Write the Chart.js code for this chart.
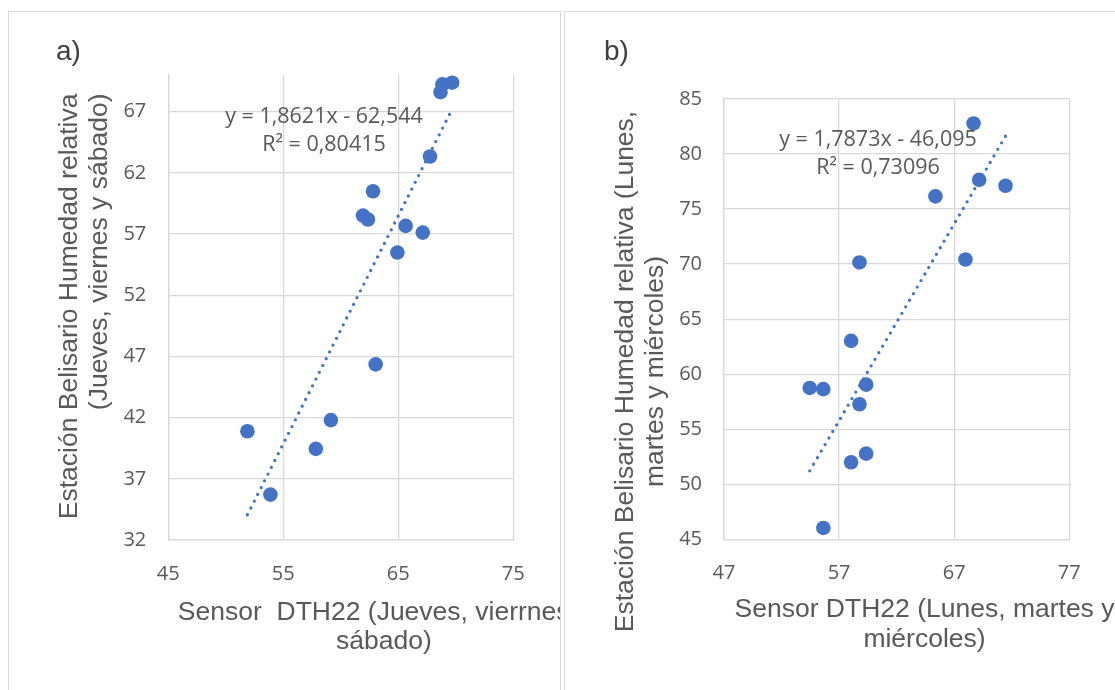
<!DOCTYPE html>
<html>
<head>
<meta charset="utf-8">
<script src="https://cdn.jsdelivr.net/npm/chart.js@4.4.1/dist/chart.umd.min.js"></script>
<style>
  body { margin: 0; width: 1115px; height: 690px; overflow: hidden; background: #fff; position: relative; }
  .panel { position: absolute; top: 11px; height: 700px; border: 1px solid #D9D9D9; overflow: hidden; box-sizing: border-box; }
  #panelA { left: 8px; width: 553px; }
  #panelB { left: 564px; width: 560px; }
  .panel canvas { position: absolute; left: 0; top: 0; }
  .lbl { position: absolute; font-family: "Liberation Sans", Arial, sans-serif; font-size: 28px; line-height: 28px; color: #404040; }
  .title { position: absolute; font-family: "Liberation Sans", Arial, sans-serif; font-size: 26.5px; line-height: 29.5px; color: #595959; white-space: nowrap; }
  .ytitle { transform: rotate(-90deg); height: 59px; }
  .xtitle { width: 500px; text-align: center; }
  .eq { position: absolute; width: 300px; font-family: "Open Sans", sans-serif; font-size: 21.5px; line-height: 28px; color: #595959; text-align: center; white-space: nowrap; }
</style>
</head>
<body>
<div class="panel" id="panelA">
  <canvas id="chartA" width="551" height="678"></canvas>
  <div class="lbl" style="left:47px; top:25px;">a)</div>
  <div class="title ytitle" style="left:-146.5px; top:271.5px; width:440px; text-align:right;">Estación Belisario Humedad relativa<br>(Jueves, viernes y sábado)</div>
  <div class="title xtitle" style="left:125px; top:584.7px;">Sensor&nbsp; DTH22 (Jueves, vierrnes y<br>sábado)</div>
  <div class="eq" style="left:165px; top:89px;">y = 1,8621x - 62,544<br>R² = 0,80415</div>
</div>
<div class="panel" id="panelB">
  <canvas id="chartB" width="548" height="678"></canvas>
  <div class="lbl" style="left:39px; top:25px;">b)</div>
  <div class="title ytitle" style="left:-206.5px; top:329.5px; width:560px; text-align:center;">Estación Belisario Humedad relativa (Lunes,<br>martes y miércoles)</div>
  <div class="title xtitle" style="left:109.5px; top:582px;">Sensor DTH22 (Lunes, martes y<br>miércoles)</div>
  <div class="eq" style="left:163px; top:112.3px;">y = 1,7873x - 46,095<br>R² = 0,73096</div>
</div>
<script>
// a) Jueves, viernes y sábado
const sensorA = [69.68, 68.84, 68.67, 67.76, 62.80, 61.93, 62.36, 65.64, 67.13, 64.92, 63.03, 59.14, 51.88, 57.83, 53.88];
const estacionA = [69.37, 69.23, 68.60, 63.34, 60.50, 58.51, 58.19, 57.67, 57.12, 55.49, 46.35, 41.80, 40.89, 39.45, 35.71];
const slopeA = 1.8621;
const interceptA = -62.544;
const xTicksA = [45, 55, 65, 75];
const yTicksA = [32, 37, 42, 47, 52, 57, 62, 67];

// b) Lunes, martes y miércoles
const sensorB = [68.68, 69.17, 71.46, 65.37, 58.77, 67.98, 58.04, 54.45, 55.63, 59.35, 58.77, 59.35, 58.04, 55.63];
const estacionB = [82.78, 77.66, 77.12, 76.15, 70.15, 70.42, 63.03, 58.75, 58.64, 59.05, 57.27, 52.78, 52.00, 46.03];
const slopeB = 1.7873;
const interceptB = -46.095;
const xTicksB = [47, 57, 67, 77];
const yTicksB = [45, 50, 55, 60, 65, 70, 75, 80, 85];

const blue = "#4472C4";
const gridColor = "#D9D9D9";
const textColor = "#595959";

Chart.defaults.font.family = "'Open Sans', sans-serif";
Chart.defaults.color = textColor;

function toPoints(xs, ys) {
  return xs.map((x, i) => ({ x: x, y: ys[i] }));
}

function trendPoints(xs, slope, intercept) {
  const lo = Math.min(...xs);
  const hi = Math.max(...xs);
  return [
    { x: lo, y: slope * lo + intercept },
    { x: hi, y: slope * hi + intercept },
  ];
}

function noPad(scale) {
  scale.paddingTop = 0;
  scale.paddingBottom = 0;
  scale.paddingLeft = 0;
  scale.paddingRight = 0;
}

function makeChart(id, xs, ys, slope, intercept, xTicks, yTicks, yMax, area) {
  const ctx = document.getElementById(id).getContext("2d");
  return new Chart(ctx, {
    type: "scatter",
    data: {
      datasets: [
        {
          label: "Lineal",
          data: trendPoints(xs, slope, intercept),
          showLine: true,
          pointRadius: 0,
          borderColor: blue,
          borderWidth: 3.3,
          borderDash: [0, 7.6],
          borderCapStyle: "round",
          fill: false,
        },
        {
          label: "Datos",
          data: toPoints(xs, ys),
          pointRadius: 7.3,
          pointHoverRadius: 7.3,
          backgroundColor: blue,
          borderColor: blue,
          borderWidth: 0,
        },
      ],
    },
    options: {
      responsive: false,
      animation: false,
      events: [],
      layout: {
        padding: { left: 0, top: area.top, right: area.right, bottom: area.bottom },
      },
      scales: {
        x: {
          type: "linear",
          min: xTicks[0],
          max: xTicks[xTicks.length - 1],
          afterBuildTicks: (axis) => {
            axis.ticks = xTicks.map((v) => ({ value: v }));
          },
          afterFit: (scale) => {
            scale.height = 60;
            noPad(scale);
          },
          grid: { color: gridColor, lineWidth: 1.3, drawTicks: false },
          border: { color: gridColor, width: 1.3 },
          ticks: { padding: 22, font: { size: 20 }, color: textColor },
        },
        y: {
          type: "linear",
          min: yTicks[0],
          max: yMax,
          afterBuildTicks: (axis) => {
            axis.ticks = yTicks.map((v) => ({ value: v }));
          },
          afterFit: (scale) => {
            scale.width = area.left;
            noPad(scale);
          },
          grid: { color: gridColor, lineWidth: 1.3, drawTicks: false },
          border: { color: gridColor, width: 1.3 },
          ticks: { padding: 22, font: { size: 20 }, color: textColor },
        },
      },
      plugins: {
        legend: { display: false },
        tooltip: { enabled: false },
      },
    },
  });
}

makeChart("chartA", sensorA, estacionA, slopeA, interceptA, xTicksA, yTicksA, 70,
  { left: 159.3, top: 63, right: 46.7, bottom: 90 });
makeChart("chartB", sensorB, estacionB, slopeB, interceptB, xTicksB, yTicksB, 85,
  { left: 159, top: 87, right: 43.7, bottom: 90.7 });
</script>
</body>
</html>
